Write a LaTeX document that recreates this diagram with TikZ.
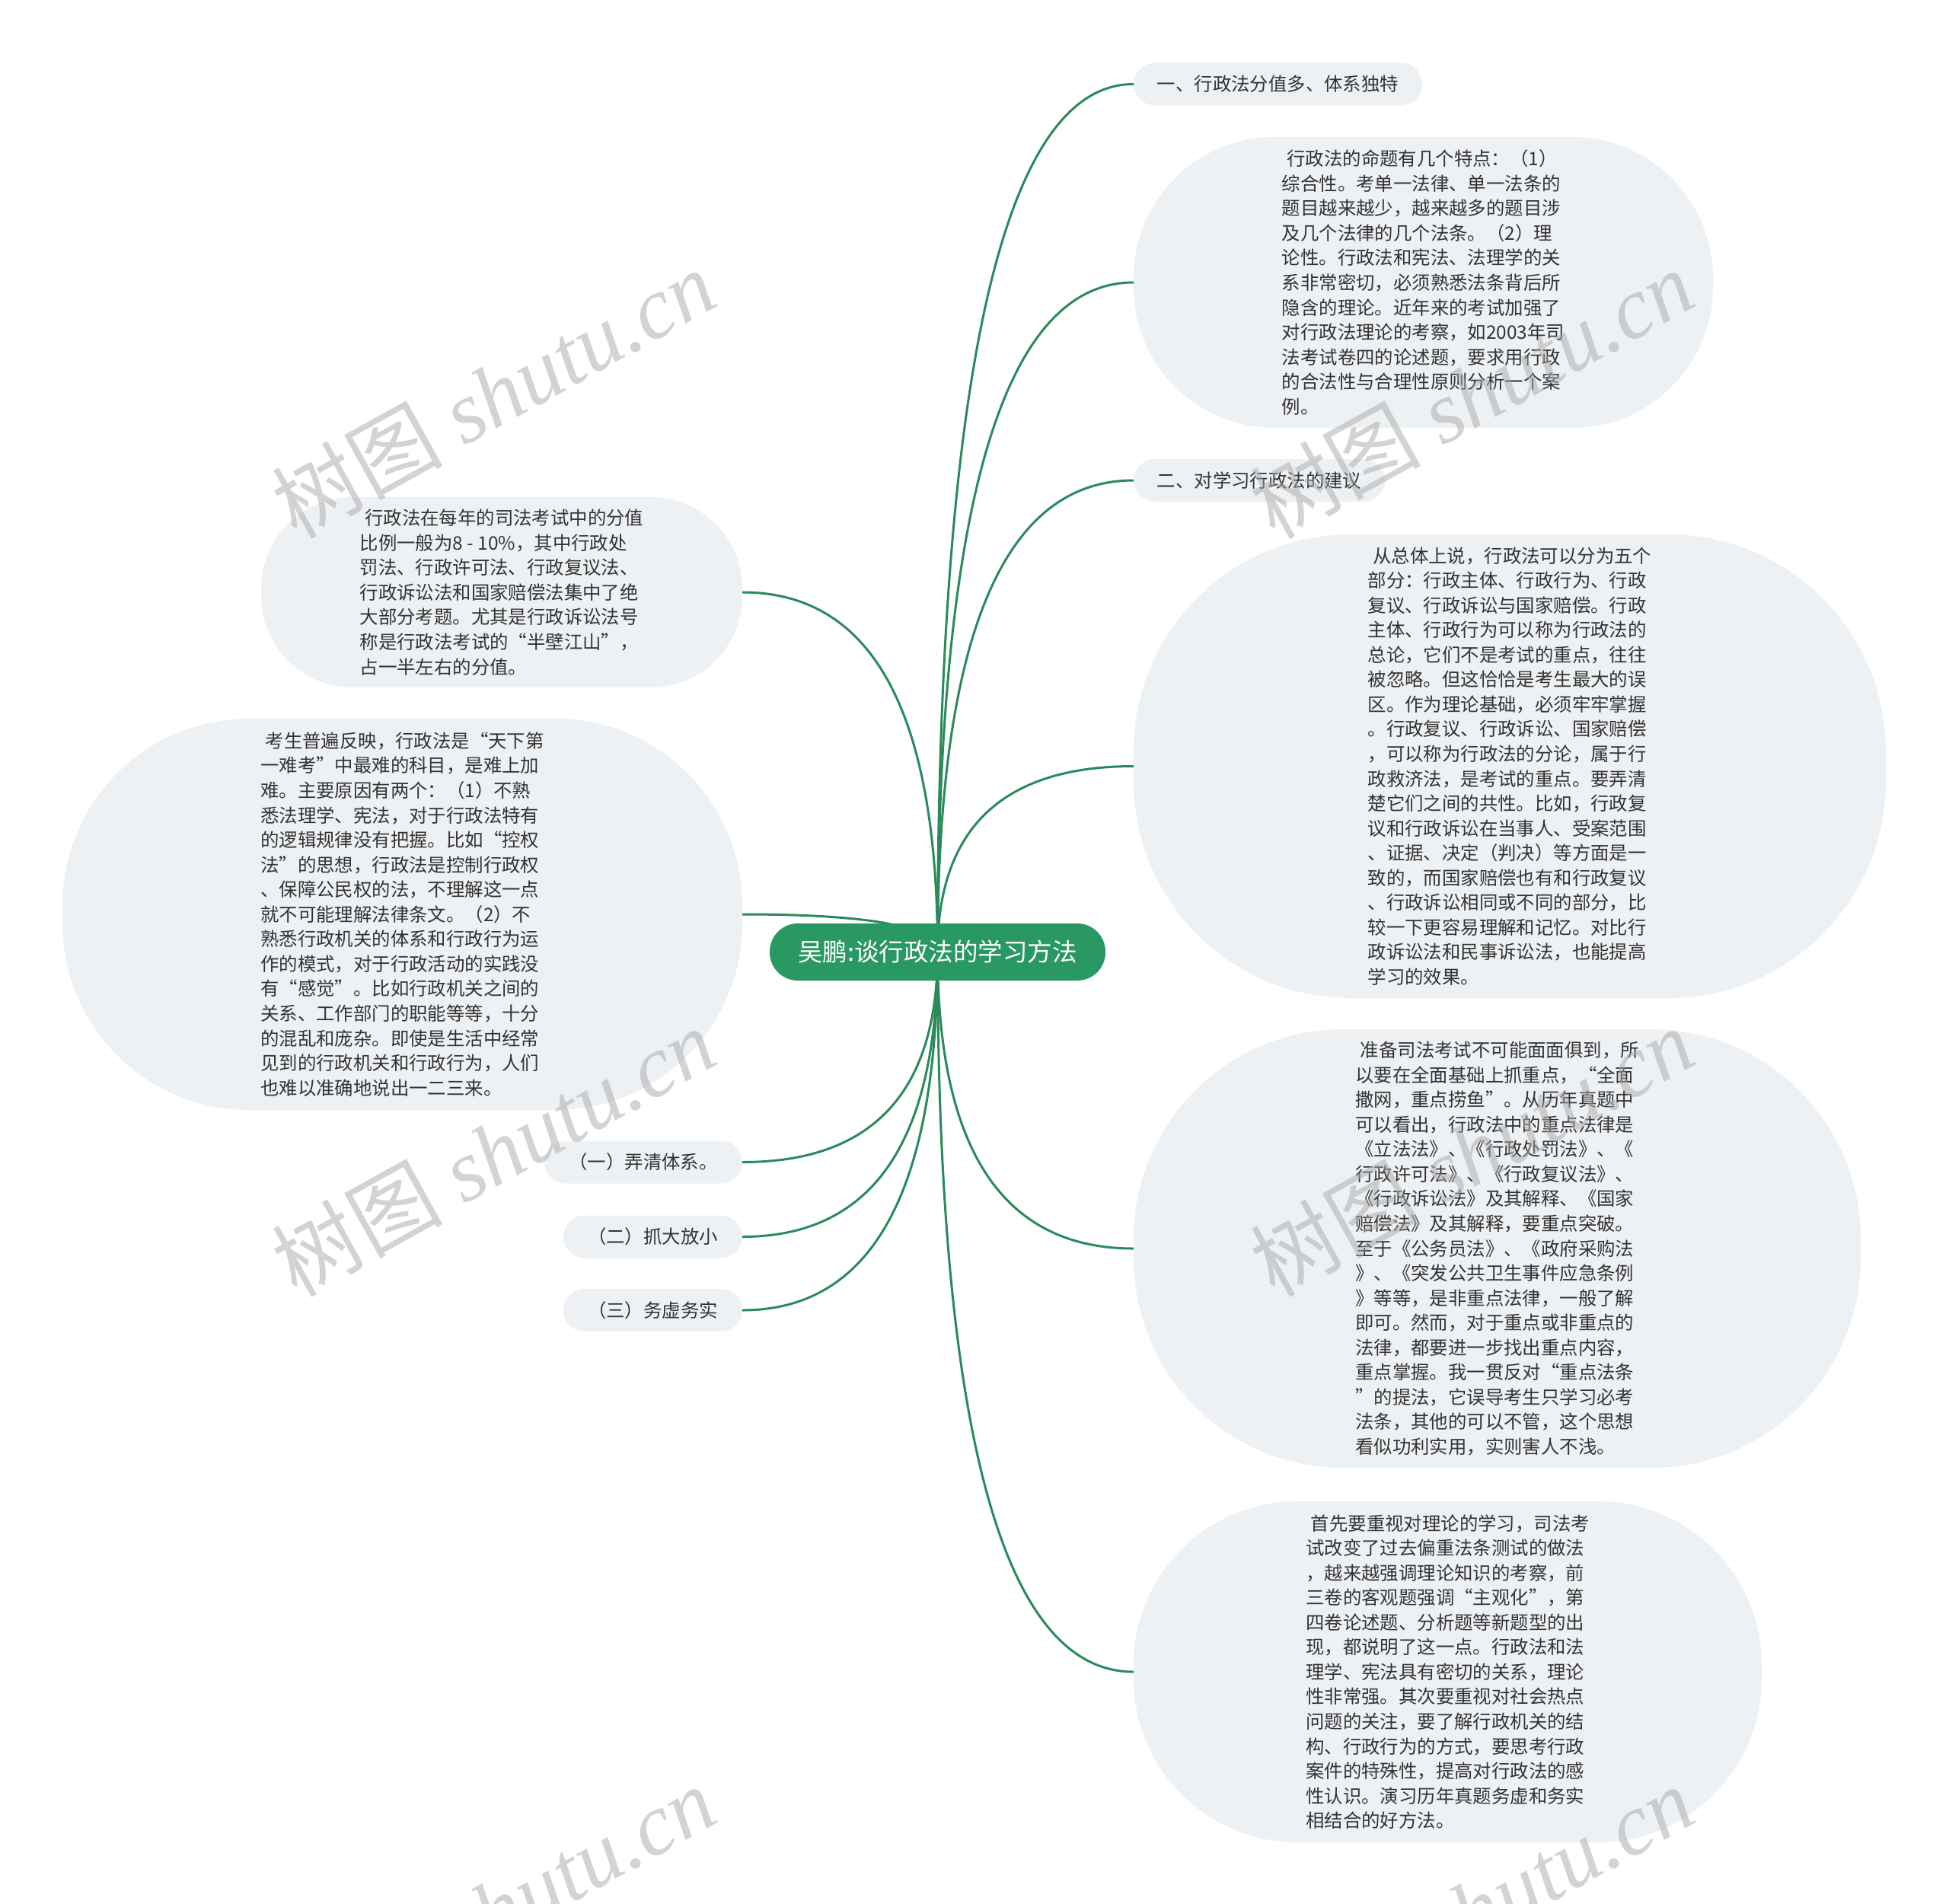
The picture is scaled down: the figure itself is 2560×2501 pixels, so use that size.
\documentclass[tikz,border=0pt]{standalone}
\usepackage{fontspec}
\newfontfamily\cjk{Noto Sans CJK SC}
\newfontfamily\wmserif{Liberation Serif}
\usetikzlibrary{calc,backgrounds}
\definecolor{leaffill}{HTML}{EEF1F4}
\definecolor{rootfill}{HTML}{2A9862}
\definecolor{linkc}{HTML}{2A8A5A}
\definecolor{txt}{HTML}{333333}
\definecolor{wm}{HTML}{A8A8A8}
\tikzset{
  leaf/.style={fill=leaffill, inner sep=0pt, align=left, text=txt, font=\cjk\fontsize{24.4}{32.56}\selectfont},
  pill/.style={leaf, rounded corners=28pt, minimum height=56pt},
  rootbox/.style={fill=rootfill, rounded corners=37pt, minimum width=441pt, minimum height=75pt, inner sep=0pt, text=white, font=\cjk\fontsize{32.5}{38}\selectfont},
  link/.style={draw=linkc, line width=3pt},
  wmark/.style={text=wm, opacity=0.5, rotate=29, inner sep=0pt}
}
\newcommand\mmlink[2]{\draw[link] (#1) .. controls ($(#1)!0.6667!(#1|-#2)$) and ($(#2)!0.6667!(#1|-#2)$) .. (#2);}
\newcommand\wmtext{{\cjk\fontsize{112}{120}\selectfont 树图}\hspace{28pt}{\wmserif\itshape\fontsize{115}{120}\selectfont shutu.cn}}
\begin{document}
\begin{tikzpicture}[x=1pt,y=-1pt]
\useasboundingbox (0,0) rectangle (2560,2501);

\node[rootbox] (root) at (1231.5,1250.5) {吴鹏:谈行政法的学习方法};

\node[pill, minimum width=379pt] (n1) at (1678.5,110.5) {一、行政法分值多、体系独特};

\node[leaf, rounded corners=185pt, minimum width=761pt, minimum height=382pt] (n2) at (1869.5,371) {\hspace*{0.27em}行政法的命题有几个特点：（1）\\综合性。考单一法律、单一法条的\\题目越来越少，越来越多的题目涉\\及几个法律的几个法条。（2）理\\论性。行政法和宪法、法理学的关\\系非常密切，必须熟悉法条背后所\\隐含的理论。近年来的考试加强了\\对行政法理论的考察，如2003年司\\法考试卷四的论述题，要求用行政\\的合法性与合理性原则分析一个案\\例。};

\node[pill, minimum width=330pt] (n3) at (1654,631) {二、对学习行政法的建议};

\node[leaf, rounded corners=285pt, minimum width=988pt, minimum height=609pt] (n4) at (1983,1006.5) {\hspace*{0.27em}从总体上说，行政法可以分为五个\\部分：行政主体、行政行为、行政\\复议、行政诉讼与国家赔偿。行政\\主体、行政行为可以称为行政法的\\总论，它们不是考试的重点，往往\\被忽略。但这恰恰是考生最大的误\\区。作为理论基础，必须牢牢掌握\\。行政复议、行政诉讼、国家赔偿\\，可以称为行政法的分论，属于行\\政救济法，是考试的重点。要弄清\\楚它们之间的共性。比如，行政复\\议和行政诉讼在当事人、受案范围\\、证据、决定（判决）等方面是一\\致的，而国家赔偿也有和行政复议\\、行政诉讼相同或不同的部分，比\\较一下更容易理解和记忆。对比行\\政诉讼法和民事诉讼法，也能提高\\学习的效果。};

\node[leaf, rounded corners=275pt, minimum width=955pt, minimum height=576pt] (n5) at (1966.5,1640) {\hspace*{0.27em}准备司法考试不可能面面俱到，所\\以要在全面基础上抓重点，“全面\\撒网，重点捞鱼”。从历年真题中\\可以看出，行政法中的重点法律是\\《立法法》、《行政处罚法》、《\\行政许可法》、《行政复议法》、\\《行政诉讼法》及其解释、《国家\\赔偿法》及其解释，要重点突破。\\至于《公务员法》、《政府采购法\\》、《突发公共卫生事件应急条例\\》等等，是非重点法律，一般了解\\即可。然而，对于重点或非重点的\\法律，都要进一步找出重点内容，\\重点掌握。我一贯反对“重点法条\\”的提法，它误导考生只学习必考\\法条，其他的可以不管，这个思想\\看似功利实用，实则害人不浅。};

\node[leaf, rounded corners=215pt, minimum width=825pt, minimum height=448pt] (n6) at (1901.5,2196) {\hspace*{0.27em}首先要重视对理论的学习，司法考\\试改变了过去偏重法条测试的做法\\，越来越强调理论知识的考察，前\\三卷的客观题强调“主观化”，第\\四卷论述题、分析题等新题型的出\\现，都说明了这一点。行政法和法\\理学、宪法具有密切的关系，理论\\性非常强。其次要重视对社会热点\\问题的关注，要了解行政机关的结\\构、行政行为的方式，要思考行政\\案件的特殊性，提高对行政法的感\\性认识。演习历年真题务虚和务实\\相结合的好方法。};

\node[leaf, rounded corners=120pt, minimum width=632pt, minimum height=250pt] (n7) at (659,778) {\hspace*{0.27em}行政法在每年的司法考试中的分值\\比例一般为8 - 10\%，其中行政处\\罚法、行政许可法、行政复议法、\\行政诉讼法和国家赔偿法集中了绝\\大部分考题。尤其是行政诉讼法号\\称是行政法考试的“半壁江山”，\\占一半左右的分值。};

\node[leaf, rounded corners=245pt, minimum width=893pt, minimum height=514pt] (n8) at (528.5,1201) {\hspace*{0.27em}考生普遍反映，行政法是“天下第\\一难考”中最难的科目，是难上加\\难。主要原因有两个：（1）不熟\\悉法理学、宪法，对于行政法特有\\的逻辑规律没有把握。比如“控权\\法”的思想，行政法是控制行政权\\、保障公民权的法，不理解这一点\\就不可能理解法律条文。（2）不\\熟悉行政机关的体系和行政行为运\\作的模式，对于行政活动的实践没\\有“感觉”。比如行政机关之间的\\关系、工作部门的职能等等，十分\\的混乱和庞杂。即使是生活中经常\\见到的行政机关和行政行为，人们\\也难以准确地说出一二三来。};

\node[pill, minimum width=260pt] (n9) at (845,1526.5) {（一）弄清体系。};
\node[pill, minimum width=235pt] (n10) at (857.5,1624.5) {（二）抓大放小};
\node[pill, minimum width=235pt] (n11) at (857.5,1721) {（三）务虚务实};

\begin{scope}[on background layer]
\fill[white] (0,0) rectangle (2560,2501);
\mmlink{root.center}{n1.west}
\mmlink{root.center}{n2.west}
\mmlink{root.center}{n3.west}
\mmlink{root.center}{n4.west}
\mmlink{root.center}{n5.west}
\mmlink{root.center}{n6.west}
\mmlink{root.center}{n7.east}
\mmlink{root.center}{n8.east}
\mmlink{root.center}{n9.east}
\mmlink{root.center}{n10.east}
\mmlink{root.center}{n11.east}
\end{scope}

\begin{scope}
\clip (0,0) rectangle (2560,2501);
\node[wmark] (wm1) at (648,517) {\wmtext};
\node[wmark] (wm2) at (1933,517) {\wmtext};
\node[wmark] (wm3) at (648,1513) {\wmtext};
\node[wmark] (wm4) at (1933,1513) {\wmtext};
\node[wmark] (wm5) at (648,2509) {\wmtext};
\node[wmark] (wm6) at (1933,2509) {\wmtext};
\end{scope}
\end{tikzpicture}
\end{document}
